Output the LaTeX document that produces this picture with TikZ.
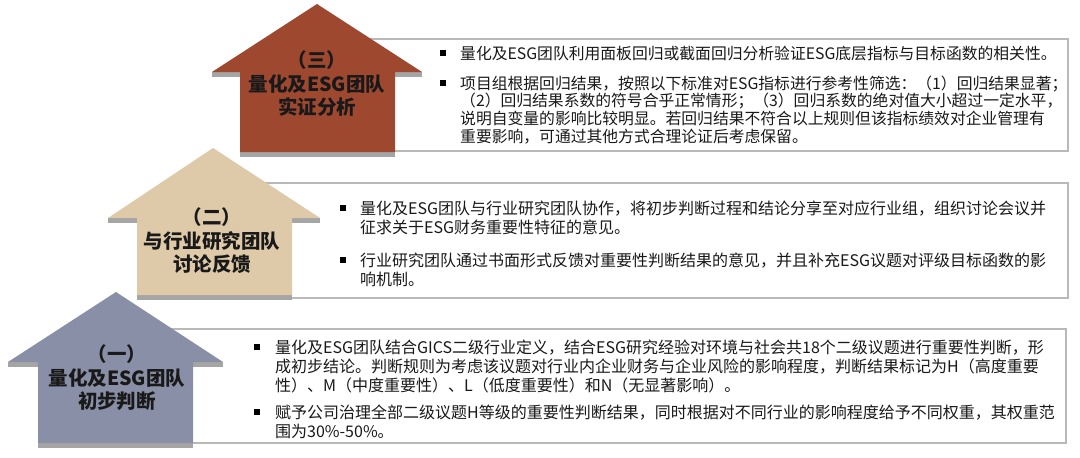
\documentclass[tikz,border=0pt]{standalone}
\usepackage{fontspec}
\setmainfont{Noto Sans CJK SC}
\definecolor{rust}{RGB}{158,72,48}
\definecolor{tan}{RGB}{222,201,169}
\definecolor{slate}{RGB}{137,143,166}
\definecolor{shgray}{RGB}{165,165,165}
\definecolor{boxgray}{RGB}{185,185,185}
\definecolor{txt}{RGB}{25,25,25}
\begin{document}
\begin{tikzpicture}[x=1pt,y=-1pt,
  box/.style={draw=boxgray,line width=1.1pt,fill=white},
  para/.style={anchor=base west,inner sep=0pt,align=left,text=txt},
  pa/.style={para,font=\fontsize{15.8}{17.8}\selectfont},
  pb/.style={para,font=\fontsize{16}{19}\selectfont},
  bul/.style={rectangle,fill=black,minimum size=6.5pt,inner sep=0pt},
  lab/.style={align=center,inner sep=0pt,text=txt,font=\bfseries\fontsize{19.5}{23.5}\selectfont},
  shad/.style={fill=shgray}]
\useasboundingbox (0,0) rectangle (1080,458);
\fill[white] (0,0) rectangle (1080,458);
% text boxes
\draw[box] (300,39) rectangle (1068,151);
\draw[box] (200,183) rectangle (1068,298);
\draw[box] (100,329) rectangle (1066,443);
% arrow 3
\fill[shad] (212,72) rectangle (240,77);
\fill[shad] (395,72) rectangle (422,77);
\fill[shad] (240,152) rectangle (395,157);
\fill[rust] (317,4) -- (422,72) -- (395,72) -- (395,152) -- (240,152) -- (240,72) -- (212,72) -- cycle;
% arrow 2
\fill[shad] (108,218) rectangle (137,223);
\fill[shad] (292,218) rectangle (320,223);
\fill[shad] (137,295) rectangle (292,300);
\fill[tan] (213,148) -- (320,218) -- (292,218) -- (292,295) -- (137,295) -- (137,218) -- (108,218) -- cycle;
% arrow 1
\fill[shad] (8,362) rectangle (38,367);
\fill[shad] (193,362) rectangle (223,367);
\fill[shad] (38,443) rectangle (193,448);
\fill[slate] (116,292) -- (223,362) -- (193,362) -- (193,443) -- (38,443) -- (38,362) -- (8,362) -- cycle;
% labels
\node[lab] (l3) at (317,84) {（三）\\量化及ESG团队\\实证分析};
\node[lab] (l2) at (212,241) {（二）\\与行业研究团队\\讨论反馈};
\node[lab] (l1) at (117,378) {（一）\\量化及ESG团队\\初步判断};
% box 1 text (base anchor = baseline of last line)
\node[bul] (b11) at (443,53) {};
\node[pa] (t11) at (460,59) {量化及ESG团队利用面板回归或截面回归分析验证ESG底层指标与目标函数的相关性。};
\node[bul] (b12) at (443,83) {};
\node[pa] (t12) at (460,142.4) {项目组根据回归结果，按照以下标准对ESG指标进行参考性筛选：（1）回归结果显著；\\（2）回归结果系数的符号合乎正常情形；（3）回归系数的绝对值大小超过一定水平，\\说明自变量的影响比较明显。若回归结果不符合以上规则但该指标绩效对企业管理有\\重要影响，可通过其他方式合理论证后考虑保留。};
% box 2 text
\node[bul] (b21) at (343,208) {};
\node[pb] (t21) at (360,233) {量化及ESG团队与行业研究团队协作，将初步判断过程和结论分享至对应行业组，组织讨论会议并\\征求关于ESG财务重要性特征的意见。};
\node[bul] (b22) at (343,260) {};
\node[pb] (t22) at (360,285) {行业研究团队通过书面形式反馈对重要性判断结果的意见，并且补充ESG议题对评级目标函数的影\\响机制。};
% box 3 text
\node[bul] (b31) at (257,347) {};
\node[pb] (t31) at (275,391) {量化及ESG团队结合GICS二级行业定义，结合ESG研究经验对环境与社会共18个二级议题进行重要性判断，形\\成初步结论。判断规则为考虑该议题对行业内企业财务与企业风险的影响程度，判断结果标记为H（高度重要\\性）、M（中度重要性）、L（低度重要性）和N（无显著影响）。};
\node[bul] (b32) at (257,412) {};
\node[pb] (t32) at (275,437) {赋予公司治理全部二级议题H等级的重要性判断结果，同时根据对不同行业的影响程度给予不同权重，其权重范\\围为30\%-50\%。};
\end{tikzpicture}
\end{document}
